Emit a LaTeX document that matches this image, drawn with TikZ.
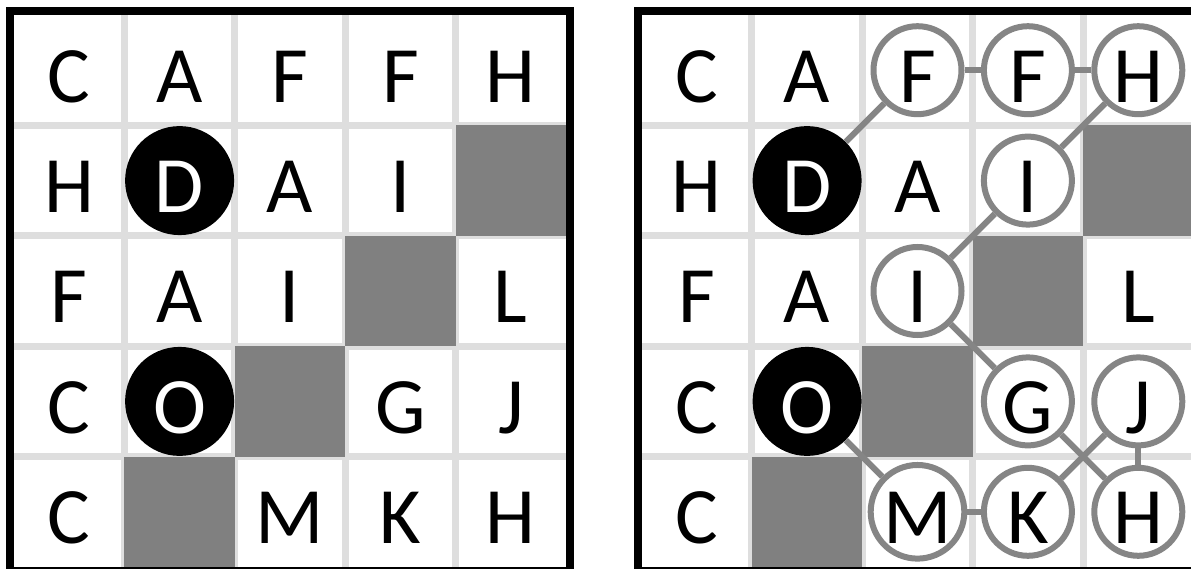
\documentclass[tikz,border=0pt]{standalone}
\usepackage{fontspec}
\setmainfont{Carlito}
\definecolor{cellgray}{HTML}{808080}
\definecolor{gridgray}{HTML}{DEDEDE}
\definecolor{ringgray}{HTML}{858585}
\begin{document}
\begin{tikzpicture}[x=1pt,y=-1pt,
  letter/.style={font=\fontsize{80}{80}\selectfont, text=black, inner sep=0pt, text height=64pt, text depth=0pt},
  blackdot/.style={letter, circle, fill=black, text=white, minimum size=109pt},
  ring/.style={letter, circle, draw=ringgray, line width=6pt, fill=white, minimum size=88pt},
  link/.style={draw=ringgray, line width=6pt},
  gridline/.style={draw=gridgray, line width=7pt},
  frame/.style={draw=black, line width=8pt}]
\useasboundingbox (0,0) rectangle (1191,569);
\clip (0,0) rectangle (1191,569);
% grids
\foreach \ox in {10,637.5} {
  \fill[white] (\ox,11) rectangle ++(560,560);
  \foreach \i in {1,...,4} {
    \draw[gridline] ({\ox+4+110.4*\i},15) -- ++(0,552);
    \draw[gridline] (\ox+4,{15+110.4*\i}) -- ++(552,0);
  }
  \foreach \r/\c in {2/5,3/4,4/3,5/2}
    \fill[cellgray] ({\ox+4+110.4*(\c-1)},{15+110.4*(\r-1)}) rectangle ++(110.4,110.4);
  \draw[frame] (\ox,11) rectangle ++(560,560);
}
% left grid letters
\node[letter] (L11) at (69.2,70.2) {C};
\node[letter] (L12) at (179.6,70.2) {A};
\node[letter] (L13) at (290.0,70.2) {F};
\node[letter] (L14) at (400.4,70.2) {F};
\node[letter] (L15) at (510.8,70.2) {H};
\node[letter] (L21) at (69.2,180.6) {H};
\node[blackdot] (L22) at (179.6,180.6) {D};
\node[letter] (L23) at (290.0,180.6) {A};
\node[letter] (L24) at (400.4,180.6) {I};
\node[letter] (L31) at (69.2,291.0) {F};
\node[letter] (L32) at (179.6,291.0) {A};
\node[letter] (L33) at (290.0,291.0) {I};
\node[letter] (L35) at (510.8,291.0) {L};
\node[letter] (L41) at (69.2,401.4) {C};
\node[blackdot] (L42) at (179.6,401.4) {O};
\node[letter] (L44) at (400.4,401.4) {G};
\node[letter] (L45) at (510.8,401.4) {J};
\node[letter] (L51) at (69.2,511.8) {C};
\node[letter] (L53) at (290.0,511.8) {M};
\node[letter] (L54) at (400.4,511.8) {K};
\node[letter] (L55) at (510.8,511.8) {H};
% right grid letters
\node[letter] (R11) at (696.7,70.2) {C};
\node[letter] (R12) at (807.1,70.2) {A};
\node[ring] (R13) at (917.5,70.2) {F};
\node[ring] (R14) at (1027.9,70.2) {F};
\node[ring] (R15) at (1138.3,70.2) {H};
\node[letter] (R21) at (696.7,180.6) {H};
\node[blackdot] (R22) at (807.1,180.6) {D};
\node[letter] (R23) at (917.5,180.6) {A};
\node[ring] (R24) at (1027.9,180.6) {I};
\node[letter] (R31) at (696.7,291.0) {F};
\node[letter] (R32) at (807.1,291.0) {A};
\node[ring] (R33) at (917.5,291.0) {I};
\node[letter] (R35) at (1138.3,291.0) {L};
\node[letter] (R41) at (696.7,401.4) {C};
\node[blackdot] (R42) at (807.1,401.4) {O};
\node[ring] (R44) at (1027.9,401.4) {G};
\node[ring] (R45) at (1138.3,401.4) {J};
\node[letter] (R51) at (696.7,511.8) {C};
\node[ring] (R53) at (917.5,511.8) {M};
\node[ring] (R54) at (1027.9,511.8) {K};
\node[ring] (R55) at (1138.3,511.8) {H};
% links
\draw[link] (R22) -- (R13);
\draw[link] (R13) -- (R14);
\draw[link] (R14) -- (R15);
\draw[link] (R15) -- (R24);
\draw[link] (R24) -- (R33);
\draw[link] (R33) -- (R44);
\draw[link] (R44) -- (R55);
\draw[link] (R45) -- (R54);
\draw[link] (R45) -- (R55);
\draw[link] (R42) -- (R53);
\draw[link] (R53) -- (R54);
\end{tikzpicture}
\end{document}
